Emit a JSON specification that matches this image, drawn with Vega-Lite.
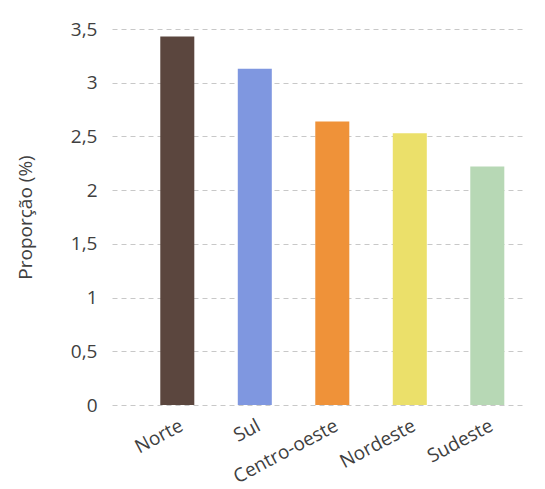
{
  "$schema": "https://vega.github.io/schema/vega-lite/v6.json",
  "autosize": "none",
  "padding": {"left": 112, "top": 29, "right": 20, "bottom": 84},
  "width": 413,
  "height": 376,
  "background": "white",
  "config": {"view": {"stroke": null}, "font": "Open Sans"},
  "data": {"values": [
    {"regiao": "Norte", "valor": 3.43},
    {"regiao": "Sul", "valor": 3.13},
    {"regiao": "Centro-oeste", "valor": 2.64},
    {"regiao": "Nordeste", "valor": 2.53},
    {"regiao": "Sudeste", "valor": 2.22}
  ]},
  "mark": {"type": "bar"},
  "encoding": {
    "x": {
      "field": "regiao", "type": "nominal", "sort": null,
      "scale": {"paddingInner": 0.561, "paddingOuter": 0.445, "align": 0.7},
      "axis": {"title": null, "labelAngle": -28, "labelFontSize": 19, "labelColor": "#404040", "domain": false, "ticks": false, "labelPadding": 11, "grid": false}
    },
    "y": {
      "field": "valor", "type": "quantitative",
      "scale": {"domain": [0, 3.5], "nice": false},
      "axis": {"title": "Proporção (%)", "titleFontSize": 19, "titleFontWeight": "normal", "titleColor": "#404040", "titlePadding": 35,
        "values": [0, 0.5, 1, 1.5, 2, 2.5, 3, 3.5],
        "labelExpr": "replace(format(datum.value, '~g'), '.', ',')",
        "labelFontSize": 19, "labelColor": "#404040", "labelPadding": 15,
        "domain": false, "ticks": false,
        "grid": true, "gridDash": [5, 4], "gridColor": "#c8c8c8", "gridWidth": 1}
    },
    "color": {
      "field": "regiao", "type": "nominal", "sort": null, "legend": null,
      "scale": {"domain": ["Norte", "Sul", "Centro-oeste", "Nordeste", "Sudeste"],
        "range": ["#5b463e", "#7f97e0", "#ef9239", "#ebe06a", "#b7d8b5"]}
    }
  }
}
